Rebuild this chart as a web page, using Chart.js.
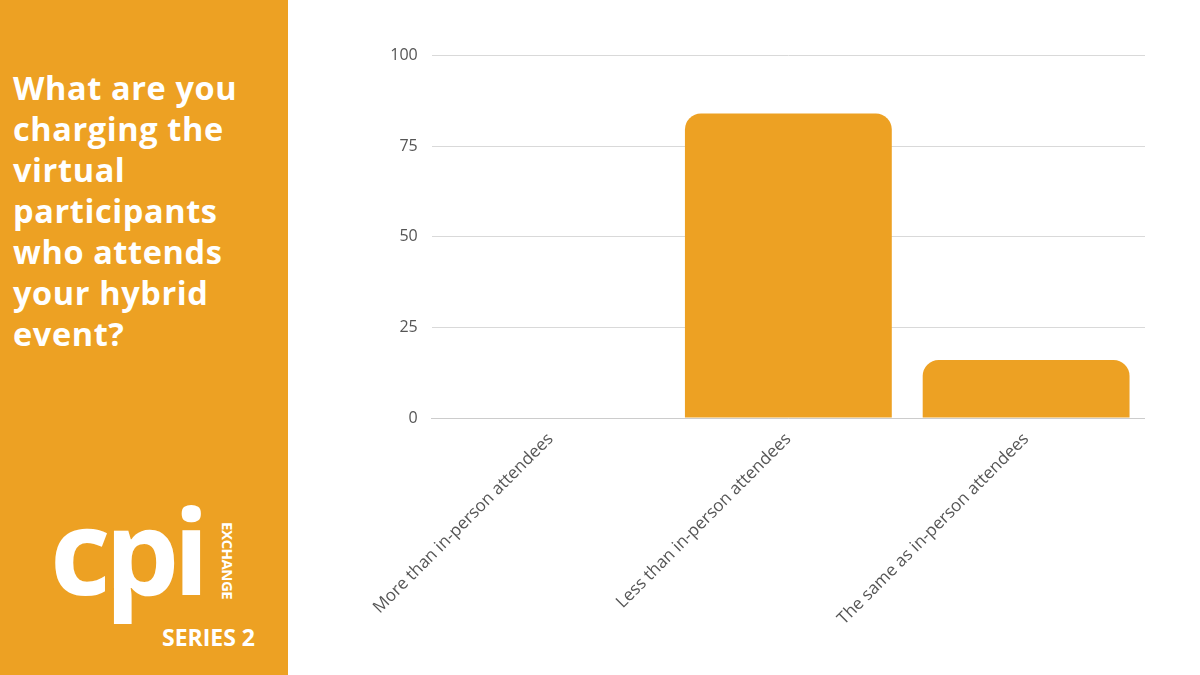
<!DOCTYPE html>
<html><head><meta charset="utf-8">
<script src="https://cdn.jsdelivr.net/npm/chart.js@4"></script>
<style>
body{margin:0;width:1200px;height:675px;background:#fff;position:relative;overflow:hidden;font-family:"Open Sans",sans-serif}
#side{position:absolute;left:0;top:0;width:288px;height:675px;background:#EDA123}
#q{position:absolute;left:13px;top:67px;color:#fff;font-weight:700;font-size:32.5px;line-height:41px;letter-spacing:0.6px}
#logo{position:absolute;left:50px;top:500px;color:#fff;font-weight:700;font-size:118px;line-height:100px;letter-spacing:-6px;font-family:"Open Sans",sans-serif}
#ex{position:absolute;left:238px;top:522px;width:95px;color:#fff;font-weight:700;font-size:15px;transform:rotate(90deg);transform-origin:0 0;letter-spacing:-0.5px}
#ser{position:absolute;left:162px;top:621px;color:#fff;font-weight:700;font-size:23px}
#wrap{position:absolute;left:364px;top:32px;width:781px;height:600px}
</style></head><body>
<div id="side">
<div id="q">What are you<br>charging the<br>virtual<br>participants<br>who attends<br>your hybrid<br>event?</div>
<div id="logo">cpi</div>
<div id="ex">EXCHANGE</div>
<div id="ser">SERIES 2</div>
</div>
<div id="wrap"><canvas id="c"></canvas></div>
<script>
const categories=["More than in-person attendees","Less than in-person attendees","The same as in-person attendees"];
const values=[0,84,16];
const yTicks=[0,25,50,75,100];
new Chart(document.getElementById('c'),{
type:'bar',
data:{labels:categories,datasets:[{data:values,backgroundColor:'#EDA123',borderRadius:{topLeft:16,topRight:16},borderSkipped:'bottom',barPercentage:0.87,categoryPercentage:1}]},
options:{responsive:true,maintainAspectRatio:false,animation:false,
plugins:{legend:{display:false},tooltip:{enabled:false}},
layout:{padding:{top:18}},
scales:{
y:{min:0,max:100,afterBuildTicks:a=>{a.ticks=yTicks.map(v=>({value:v}))},
border:{display:false},grid:{color:'#d9d9d9',drawTicks:false},
ticks:{padding:14,color:'#555',font:{family:'Open Sans',size:16}}},
x:{grid:{display:false},border:{color:'#cccccc'},
ticks:{maxRotation:45,minRotation:45,color:'#555',font:{family:'Open Sans',size:17}}}
}}});
</script>
</body></html>
